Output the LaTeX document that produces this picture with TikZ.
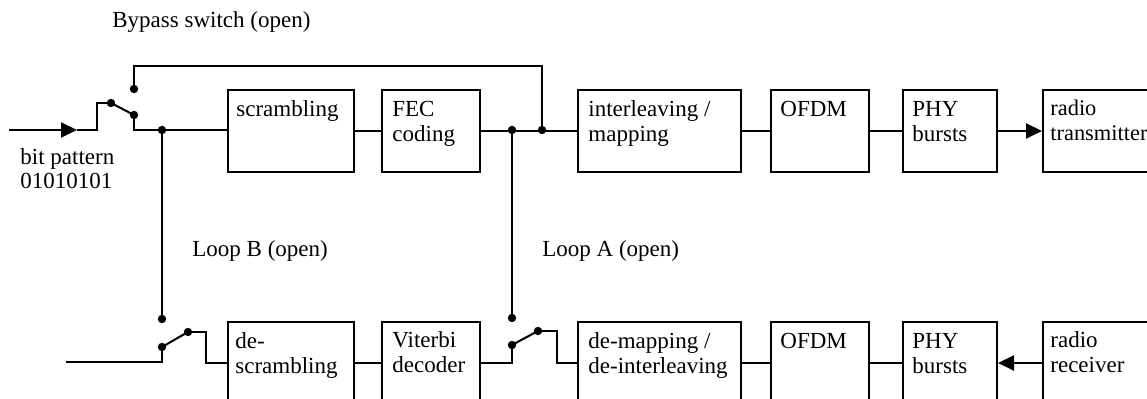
\documentclass[tikz,border=0pt]{standalone}
\usepackage{fontspec}
\setmainfont{Liberation Serif}
\usetikzlibrary{arrows.meta,calc}
\begin{document}
\begin{tikzpicture}[x=0.5pt,y=-0.5pt,
  box/.style={draw, line width=1pt, rectangle, minimum height=41pt, inner sep=0pt, anchor=north west},
  lbl/.style={anchor=base west, inner sep=0pt, align=left, font=\fontsize{11.5}{12.5}\selectfont},
  wire/.style={line width=1pt},
  dot/.style={circle, fill, inner sep=0pt, minimum size=4.2pt},
  arr/.style={-{Triangle[length=8pt,width=7.5pt]}}
]
\useasboundingbox (0,0) rectangle (1147,399);
\clip (0,0) rectangle (1147,399);
% top row boxes
\node[box, minimum width=63pt] (scr) at (227,89) {};
\node[box, minimum width=49pt] (fec) at (381,89) {};
\node[box, minimum width=81.5pt] (ilv) at (577,89) {};
\node[box, minimum width=49pt] (ofdm) at (770,89) {};
\node[box, minimum width=47pt] (phy) at (902,89) {};
\node[box, minimum width=64pt] (rtx) at (1042,89) {};
% bottom row boxes
\node[box, minimum width=63pt] (desc) at (227,321) {};
\node[box, minimum width=49pt] (vit) at (381,321) {};
\node[box, minimum width=81.5pt] (demap) at (577,321) {};
\node[box, minimum width=49pt] (ofdmb) at (770,321) {};
\node[box, minimum width=47pt] (phyb) at (902,321) {};
\node[box, minimum width=64pt] (rrx) at (1042,321) {};
% box texts (two-line nodes are anchored at the baseline of their last line)
\node[lbl] (scrT) at ($(scr.north west)+(9,28)$) {scrambling};
\node[lbl] (fecT) at ($(fec.north west)+(11,53)$) {FEC\\coding};
\node[lbl] (ilvT) at ($(ilv.north west)+(11,53)$) {interleaving /\\mapping};
\node[lbl] (ofdmT) at ($(ofdm.north west)+(10,28)$) {OFDM};
\node[lbl] (phyT) at ($(phy.north west)+(10,53)$) {PHY\\bursts};
\node[lbl, font=\fontsize{11.2}{12.5}\selectfont] (rtxT) at ($(rtx.north west)+(8,52)$) {radio\\transmitter};
\node[lbl] (descT) at ($(desc.north west)+(8,53)$) {de-\\scrambling};
\node[lbl] (vitT) at ($(vit.north west)+(11,52)$) {Viterbi\\decoder};
\node[lbl] (demapT) at ($(demap.north west)+(11,53)$) {de-mapping /\\de-interleaving};
\node[lbl] (ofdmbT) at ($(ofdmb.north west)+(10,28)$) {OFDM};
\node[lbl] (phybT) at ($(phyb.north west)+(10,53)$) {PHY\\bursts};
\node[lbl] (rrxT) at ($(rrx.north west)+(8,52)$) {radio\\receiver};
% free labels
\node[lbl] (bypT) at (112,28) {Bypass switch (open)};
\node[lbl] (loopB) at (192,257) {Loop B (open)};
\node[lbl] (loopA) at (542,257) {Loop A (open)};
\node[lbl, font=\fontsize{11.5}{12}\selectfont] (bitT) at (20,189) {bit pattern\\01010101};
% dots
\node[dot] (p1) at (111,103) {};
\node[dot] (c1) at (134,115) {};
\node[dot] (u1) at (134,89) {};
\node[dot] (jB) at (162,130) {};
\node[dot] (jA) at (512,130) {};
\node[dot] (jby) at (542,130) {};
\node[dot] (dB) at (162,319) {};
\node[dot] (l2) at (162,347) {};
\node[dot] (p2) at (188,332) {};
\node[dot] (dA) at (512,318) {};
\node[dot] (l3) at (512,345) {};
\node[dot] (p3) at (538,331) {};
% helper coordinates
\coordinate (in) at (9,130);
\coordinate (a1) at (77,130);
\coordinate (k1) at (97,130);
\coordinate (k2) at (97,103);
\coordinate (byp) at (134,66);
\coordinate (inB) at (66,362);
\coordinate (k3) at (206,332);
\coordinate (k4) at (557,331);
% top path
\draw[wire, arr] (in) -- (a1);
\draw[wire] (a1) -- (k1) -- (k2) -- (p1.center);
\draw[wire] (p1.center) -- (c1.center);
\draw[wire] (c1.center) |- (jB.center) -- (jB.center -| scr.west);
\draw[wire] (u1.center) -- (byp) -| (jby.center);
\draw[wire] (scr.east) -- (fec.west);
\draw[wire] (fec.east) -- (ilv.west);
\draw[wire] (ilv.east) -- (ofdm.west);
\draw[wire] (ofdm.east) -- (phy.west);
\draw[wire, arr] (phy.east) -- (rtx.west);
% loops
\draw[wire] (jB.center) -- (dB.center);
\draw[wire] (jA.center) -- (dA.center);
% bottom switch B
\draw[wire] (inB) -| (l2.center);
\draw[wire] (l2.center) -- (p2.center);
\draw[wire] (p2.center) -- (k3) |- (desc.west);
% bottom path
\draw[wire] (desc.east) -- (vit.west);
\draw[wire] (vit.east) -| (l3.center);
\draw[wire] (l3.center) -- (p3.center);
\draw[wire] (p3.center) -- (k4) |- (demap.west);
\draw[wire] (demap.east) -- (ofdmb.west);
\draw[wire] (ofdmb.east) -- (phyb.west);
\draw[wire, arr] (rrx.west) -- (phyb.east);
\end{tikzpicture}
\end{document}
